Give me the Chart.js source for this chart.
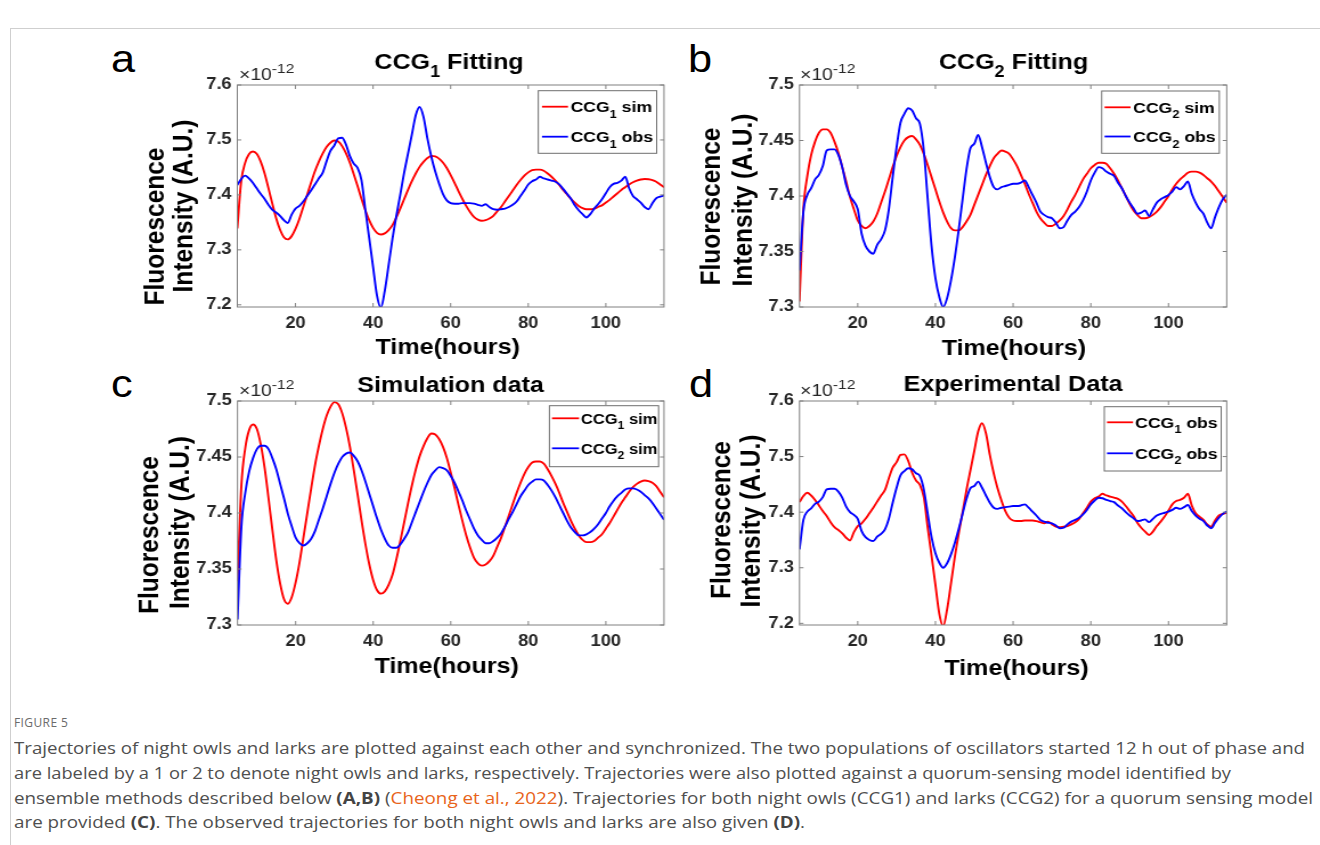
<!DOCTYPE html>
<html>
<head>
<meta charset="utf-8">
<script src="https://cdn.jsdelivr.net/npm/chart.js@4.4.1/dist/chart.umd.min.js"></script>
<style>
  body { margin: 0; background: #fff; width: 1320px; height: 845px; position: relative; overflow: hidden; }
  canvas { position: absolute; }
  .frame { position: absolute; left: 10px; top: 28px; width: 1320px; height: 900px; border-left: 1px solid #cfcfcf; border-top: 1px solid #cfcfcf; }
  .letter { position: absolute; font: 38px "Liberation Sans", Arial, sans-serif; line-height: 38px; color: #000; transform-origin: 0 0; transform: scaleX(1.14); }
  .fig { position: absolute; left: 14px; top: 714px; font: 12px "Open Sans", sans-serif; color: #6b6b6b; letter-spacing: 0.4px; }
  .cap { position: absolute; left: 14px; white-space: nowrap; font: 16px/20px "Open Sans", sans-serif; color: #4f4f4f; transform-origin: 0 0; }
  .cap b { color: #444; }
  .ref { color: #e8641b; }
</style>
</head>
<body>
<div class="frame"></div>
<div class="letter" style="left:111px;top:40px">a</div>
<div class="letter" style="left:688px;top:40px">b</div>
<div class="letter" style="left:111px;top:365px">c</div>
<div class="letter" style="left:689px;top:365px">d</div>

<canvas id="ca" width="509" height="336" style="left:100px;top:30px;width:580px;height:336px"></canvas>
<canvas id="cb" width="491" height="336" style="left:680px;top:30px;width:560px;height:336px"></canvas>
<canvas id="cc" width="509" height="320" style="left:100px;top:366px;width:580px;height:320px"></canvas>
<canvas id="cd" width="491" height="320" style="left:680px;top:366px;width:560px;height:320px"></canvas>

<div class="fig">FIGURE 5</div>
<div class="cap" style="top:738px">Trajectories of night owls and larks are plotted against each other and synchronized. The two populations of oscillators started 12 h out of phase and</div>
<div class="cap" style="top:763px">are labeled by a 1 or 2 to denote night owls and larks, respectively. Trajectories were also plotted against a quorum-sensing model identified by</div>
<div class="cap" style="top:788px">ensemble methods described below <b>(A,B)</b> (<span class="ref">Cheong et al., 2022</span>). Trajectories for both night owls (CCG1) and larks (CCG2) for a quorum sensing model</div>
<div class="cap" style="top:812px">are provided <b>(C)</b>. The observed trajectories for both night owls and larks are also given <b>(D)</b>.</div>

<script>
// time axis (hours) shared by all four traces
const hours = [5,6,7,8,9,10,11,12,13,14,15,16,17,18,19,20,21,22,23,24,25,26,27,28,29,30,31,32,33,34,
  35,36,37,38,39,40,41,42,43,44,45,46,47,48,49,50,51,52,53,54,55,56,57,58,59,60,61,62,63,64,
  65,66,67,68,69,70,71,72,73,74,75,76,77,78,79,80,81,82,83,84,85,86,87,88,89,90,91,92,93,94,
  95,96,97,98,99,100,101,102,103,104,105,106,107,108,109,110,111,112,113,114,115];

// fluorescence, in units of 1e-12
const ccg1Sim = [7.339,7.425,7.458,7.474,7.479,7.475,7.461,7.440,7.413,7.385,
  7.358,7.337,7.323,7.319,7.325,7.338,7.356,7.378,7.400,7.422,
  7.443,7.460,7.475,7.487,7.495,7.499,7.497,7.489,7.476,7.459,
  7.438,7.416,7.393,7.372,7.354,7.340,7.331,7.328,7.330,7.336,
  7.345,7.359,7.375,7.392,7.409,7.425,7.439,7.451,7.460,7.467,
  7.471,7.470,7.466,7.459,7.449,7.436,7.422,7.407,7.393,7.380,
  7.369,7.360,7.355,7.353,7.354,7.357,7.362,7.370,7.378,7.388,
  7.398,7.408,7.418,7.427,7.435,7.441,7.445,7.446,7.446,7.444,
  7.439,7.433,7.426,7.418,7.409,7.401,7.393,7.386,7.380,7.376,
  7.374,7.374,7.375,7.378,7.381,7.386,7.391,7.397,7.403,7.409,
  7.414,7.419,7.423,7.426,7.428,7.429,7.4285,7.427,7.424,7.419,
  7.414];

const ccg2Sim = [7.305,7.388,7.418,7.437,7.449,7.457,7.460,7.460,7.457,7.449,
  7.439,7.426,7.413,7.399,7.388,7.378,7.373,7.371,7.373,7.377,
  7.384,7.394,7.404,7.415,7.426,7.436,7.444,7.450,7.453,7.454,
  7.451,7.446,7.438,7.428,7.417,7.406,7.395,7.385,7.377,7.371,
  7.369,7.369,7.372,7.377,7.383,7.392,7.401,7.410,7.419,7.427,
  7.434,7.438,7.441,7.440,7.438,7.433,7.427,7.419,7.411,7.402,
  7.394,7.386,7.380,7.376,7.373,7.373,7.375,7.378,7.382,7.388,
  7.395,7.401,7.408,7.415,7.420,7.425,7.428,7.430,7.430,7.429,
  7.425,7.420,7.414,7.407,7.400,7.393,7.387,7.383,7.380,7.380,
  7.381,7.383,7.386,7.390,7.395,7.400,7.406,7.411,7.415,7.418,
  7.421,7.422,7.422,7.421,7.419,7.416,7.413,7.409,7.404,7.399,
  7.394];

const ccg1Obs = [7.418,7.429,7.435,7.430,7.422,7.412,7.402,7.393,7.382,7.373,
  7.368,7.362,7.354,7.349,7.364,7.375,7.380,7.388,7.398,7.408,
  7.419,7.430,7.440,7.461,7.480,7.490,7.503,7.504,7.492,7.471,
  7.457,7.449,7.427,7.373,7.322,7.269,7.217,7.195,7.225,7.272,
  7.320,7.362,7.400,7.440,7.475,7.510,7.545,7.560,7.542,7.503,
  7.470,7.443,7.421,7.402,7.390,7.385,7.384,7.384,7.385,7.385,
  7.385,7.384,7.382,7.380,7.383,7.378,7.374,7.373,7.374,7.375,
  7.378,7.382,7.388,7.398,7.408,7.419,7.425,7.428,7.433,7.430,
  7.428,7.426,7.424,7.419,7.411,7.402,7.393,7.381,7.372,7.365,
  7.359,7.365,7.375,7.383,7.392,7.403,7.414,7.420,7.422,7.426,
  7.433,7.412,7.398,7.392,7.386,7.378,7.374,7.385,7.394,7.397,
  7.399];

const ccg2Obs = [7.333,7.386,7.401,7.407,7.415,7.419,7.427,7.441,7.442,7.442,
  7.437,7.426,7.410,7.400,7.395,7.388,7.366,7.355,7.350,7.348,
  7.356,7.361,7.369,7.388,7.417,7.444,7.466,7.474,7.479,7.477,
  7.470,7.465,7.441,7.398,7.355,7.326,7.309,7.300,7.308,7.324,
  7.345,7.370,7.397,7.424,7.443,7.447,7.455,7.444,7.430,7.417,
  7.408,7.406,7.408,7.409,7.410,7.411,7.411,7.412,7.414,7.408,
  7.401,7.394,7.386,7.383,7.381,7.380,7.376,7.371,7.372,7.378,
  7.383,7.386,7.390,7.396,7.404,7.414,7.421,7.426,7.425,7.422,
  7.420,7.418,7.412,7.407,7.400,7.394,7.389,7.384,7.385,7.387,
  7.382,7.388,7.394,7.397,7.399,7.401,7.404,7.408,7.406,7.409,
  7.413,7.402,7.394,7.388,7.384,7.376,7.371,7.381,7.390,7.397,
  7.401];

// tick labels
const xTicks = [20, 40, 60, 80, 100];
const yTicksWide = [7.2, 7.3, 7.4, 7.5, 7.6];
const yTicksNarrow = [7.3, 7.35, 7.4, 7.45, 7.5];

const RED = '#ff0000';
const BLUE = '#0000ff';
const FAMILY = '"Liberation Sans", Arial, Helvetica, sans-serif';
const TEXT = '#262626';
const AXIS = '#808080';

// label pieces: [text, kind] kind 0 = normal, 1 = subscript, 2 = superscript
function ccg(n, rest) { return [['CCG', 0], [String(n), 1], [rest, 0]]; }

const panels = [
  { id: 'ca', left: 100, top: 30, width: 580, height: 336,
    plot: { l: 237.3, r: 664, t: 85, b: 307 }, yMin: 7.196, yMax: 7.6, yTicks: yTicksWide,
    title: ccg(1, ' Fitting'), titleX: 449, titleY: 69,
    expX: 239, expY: 80,
    yTitle: [{ t: 'Fluorescence', x: 156.3, y: 226.5 }, { t: 'Intensity (A.U.)', x: 184.5, y: 206 }],
    xTitleX: 447.7, xTitleY: 354,
    legend: { l: 538.3, r: 656.7, t: 90.7, b: 153.3, a: 542, z: 568, tx: 570.5, rows: [106.7, 136.7], size: 15.5 },
    series: [{ v: ccg1Sim, c: RED, name: ccg(1, ' sim'), order: 1 }, { v: ccg1Obs, c: BLUE, name: ccg(1, ' obs'), order: 0 }] },
  { id: 'cb', left: 680, top: 30, width: 560, height: 336,
    plot: { l: 799.5, r: 1226.7, t: 85, b: 307 }, yMin: 7.3, yMax: 7.5, yTicks: yTicksNarrow,
    title: ccg(2, ' Fitting'), titleX: 1013.5, titleY: 69,
    expX: 800, expY: 80,
    yTitle: [{ t: 'Fluorescence', x: 712.3, y: 206.5 }, { t: 'Intensity (A.U.)', x: 744.5, y: 200 }],
    xTitleX: 1013.9, xTitleY: 355,
    legend: { l: 1101.7, r: 1219.3, t: 91, b: 153.3, a: 1104.6, z: 1130.5, tx: 1133, rows: [107.3, 136.5], size: 15.5 },
    series: [{ v: ccg2Sim, c: RED, name: ccg(2, ' sim'), order: 1 }, { v: ccg2Obs, c: BLUE, name: ccg(2, ' obs'), order: 0 }] },
  { id: 'cc', left: 100, top: 366, width: 580, height: 320,
    plot: { l: 237.5, r: 664, t: 401, b: 625 }, yMin: 7.3, yMax: 7.5, yTicks: yTicksNarrow,
    title: [['Simulation data', 0]], titleX: 450.6, titleY: 392,
    expX: 239, expY: 396,
    yTitle: [{ t: 'Fluorescence', x: 150.9, y: 535 }, { t: 'Intensity (A.U.)', x: 181, y: 522.5 }],
    xTitleX: 446.7, xTitleY: 673,
    legend: { l: 549.4, r: 658.6, t: 405.7, b: 466.7, a: 552, z: 579, tx: 581, rows: [418.3, 448.3], size: 14.5 },
    series: [{ v: ccg1Sim, c: RED, name: ccg(1, ' sim'), order: 1 }, { v: ccg2Sim, c: BLUE, name: ccg(2, ' sim'), order: 0 }] },
  { id: 'cd', left: 680, top: 366, width: 560, height: 320,
    plot: { l: 799.5, r: 1226.7, t: 401, b: 625 }, yMin: 7.197, yMax: 7.6, yTicks: yTicksWide,
    title: [['Experimental Data', 0]], titleX: 1013, titleY: 391,
    expX: 800, expY: 396,
    yTitle: [{ t: 'Fluorescence', x: 722.2, y: 520 }, { t: 'Intensity (A.U.)', x: 752.5, y: 521 }],
    xTitleX: 1016.5, xTitleY: 675,
    legend: { l: 1104.3, r: 1221.2, t: 406.7, b: 471, a: 1107, z: 1133, tx: 1135, rows: [422.3, 453.3], size: 15.5 },
    series: [{ v: ccg1Obs, c: RED, name: ccg(1, ' obs'), order: 1 }, { v: ccg2Obs, c: BLUE, name: ccg(2, ' obs'), order: 0 }] }
];

function drawRich(ctx, parts, x, y, size, weight, align, subScale) {
  const sc = subScale || 0.72;
  const fonts = parts.map(p => weight + ' ' + (p[1] ? size * sc : size) + 'px ' + FAMILY);
  let total = 0;
  const widths = parts.map((p, i) => { ctx.font = fonts[i]; const w = ctx.measureText(p[0]).width; total += w; return w; });
  let cx = align === 'center' ? x - total / 2 : x;
  ctx.textAlign = 'left';
  ctx.textBaseline = 'alphabetic';
  parts.forEach((p, i) => {
    ctx.font = fonts[i];
    const dy = p[1] === 1 ? size * 0.36 : p[1] === 2 ? -size * 0.42 : 0;
    ctx.fillText(p[0], cx, y + dy);
    cx += widths[i];
  });
}

function decor(p) {
  return {
    id: 'decor_' + p.id,
    afterDraw(chart) {
      const ctx = chart.ctx;
      const k = chart.width / p.width;
      const X = v => (v - p.left) * k;
      const Y = v => v - p.top;
      const ca = chart.chartArea;
      const xs = chart.scales.x, ys = chart.scales.y;
      ctx.save();

      // axes box with inward ticks on all four sides
      ctx.strokeStyle = AXIS;
      ctx.lineWidth = 1;
      ctx.strokeRect(ca.left, ca.top, ca.right - ca.left, ca.bottom - ca.top);
      ctx.beginPath();
      xTicks.forEach(v => {
        const px = xs.getPixelForValue(v);
        ctx.moveTo(px, ca.bottom); ctx.lineTo(px, ca.bottom - 4);
        ctx.moveTo(px, ca.top); ctx.lineTo(px, ca.top + 4);
      });
      p.yTicks.forEach(v => {
        const py = ys.getPixelForValue(v);
        ctx.moveTo(ca.left, py); ctx.lineTo(ca.left + 4 * k, py);
        ctx.moveTo(ca.right, py); ctx.lineTo(ca.right - 4 * k, py);
      });
      ctx.stroke();

      // title
      ctx.fillStyle = '#000';
      drawRich(ctx, p.title, X(p.titleX), Y(p.titleY), 22, 'bold', 'center');

      // exponent label
      ctx.fillStyle = TEXT;
      drawRich(ctx, [['\u00d710', 0], ['-12', 2]], X(p.expX), Y(p.expY), 17, 'normal', 'left', 0.8);

      // axis titles
      ctx.fillStyle = '#000';
      drawRich(ctx, [['Time(hours)', 0]], X(p.xTitleX), Y(p.xTitleY), 22, 'bold', 'center');
      p.yTitle.forEach(line => {
        ctx.save();
        ctx.translate(X(line.x), Y(line.y));
        ctx.rotate(-Math.PI / 2);
        ctx.font = 'bold 24.5px ' + FAMILY;
        ctx.textAlign = 'center';
        ctx.textBaseline = 'middle';
        ctx.fillText(line.t, 0, 0);
        ctx.restore();
      });

      // legend
      const lg = p.legend;
      ctx.fillStyle = '#fff';
      ctx.fillRect(X(lg.l), Y(lg.t), X(lg.r) - X(lg.l), Y(lg.b) - Y(lg.t));
      ctx.strokeStyle = '#6e6e6e';
      ctx.lineWidth = 1;
      ctx.strokeRect(X(lg.l), Y(lg.t), X(lg.r) - X(lg.l), Y(lg.b) - Y(lg.t));
      p.series.forEach((s, i) => {
        const ry = Y(lg.rows[i]);
        ctx.strokeStyle = s.c;
        ctx.lineWidth = 1.8;
        ctx.beginPath();
        ctx.moveTo(X(lg.a), ry); ctx.lineTo(X(lg.z), ry);
        ctx.stroke();
        ctx.fillStyle = '#000';
        drawRich(ctx, s.name, X(lg.tx), ry + lg.size * 0.36, lg.size, 'bold', 'left');
      });
      ctx.restore();
    }
  };
}

const tickFont = { family: FAMILY, size: 16, weight: 'bold' };

panels.forEach(p => {
  const canvas = document.getElementById(p.id);
  const k = canvas.width / p.width;
  new Chart(canvas, {
    type: 'line',
    data: {
      datasets: p.series.map(s => ({
        data: hours.map((h, j) => ({ x: h, y: s.v[j] })),
        borderColor: s.c,
        borderWidth: 1.9,
        pointRadius: 0,
        fill: false,
        cubicInterpolationMode: 'monotone',
        order: s.order
      }))
    },
    options: {
      responsive: false,
      animation: false,
      devicePixelRatio: 1,
      layout: { padding: { left: 0, top: p.plot.t - p.top, right: (p.left + p.width - p.plot.r) * k, bottom: 0 } },
      plugins: { legend: { display: false }, tooltip: { enabled: false }, title: { display: false } },
      scales: {
        x: {
          type: 'linear', min: 5, max: 115,
          afterBuildTicks: s => { s.ticks = xTicks.map(v => ({ value: v })); },
          afterFit: s => { s.height = p.top + p.height - p.plot.b; },
          grid: { display: false, drawTicks: false },
          border: { display: false },
          ticks: { padding: 7, font: tickFont, color: TEXT, maxRotation: 0, autoSkip: false, callback: v => String(v) }
        },
        y: {
          type: 'linear', min: p.yMin, max: p.yMax,
          afterBuildTicks: s => { s.ticks = p.yTicks.map(v => ({ value: v })); },
          afterFit: s => { s.width = (p.plot.l - p.left) * k; },
          grid: { display: false, drawTicks: false },
          border: { display: false },
          ticks: { padding: 5, font: tickFont, color: TEXT, autoSkip: false, callback: v => String(v) }
        }
      }
    },
    plugins: [decor(p)]
  });
});

// stretch each caption line to the width it has in the figure
const capRight = [1305, 1231, 1313, 805];
document.querySelectorAll('.cap').forEach((el, i) => {
  const w = el.getBoundingClientRect().width;
  el.style.transform = 'scaleX(' + ((capRight[i] - 14) / w) + ')';
});
</script>
</body>
</html>
